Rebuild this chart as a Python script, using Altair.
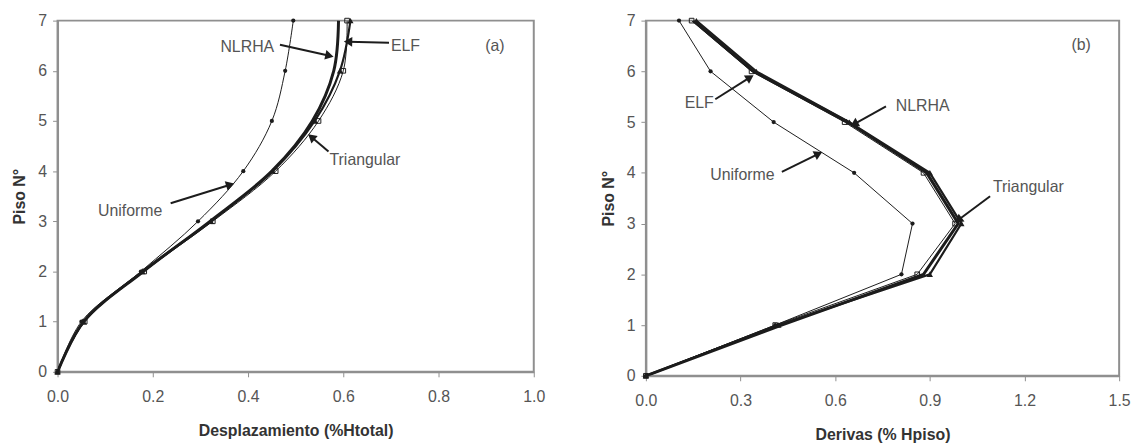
import math
import altair as alt
import pandas as pd

pisos = [0, 1, 2, 3, 4, 5, 6, 7]

# (a) Desplazamiento (% Htotal) por piso
desp_nlrha = [0.0, 0.055, 0.180, 0.320, 0.450, 0.535, 0.580, 0.590]
desp_triangular = [0.0, 0.055, 0.178, 0.322, 0.452, 0.540, 0.593, 0.615]
desp_elf = [0.0, 0.057, 0.182, 0.326, 0.458, 0.548, 0.600, 0.608]
desp_uniforme = [0.0, 0.050, 0.175, 0.295, 0.390, 0.450, 0.478, 0.495]

# (b) Derivas (% Hpiso) por piso
der_nlrha = [0.0, 0.43, 0.88, 0.99, 0.89, 0.640, 0.340, 0.150]
der_triangular = [0.0, 0.42, 0.90, 1.00, 0.90, 0.645, 0.350, 0.160]
der_elf = [0.0, 0.41, 0.86, 0.98, 0.88, 0.630, 0.335, 0.145]
der_uniforme = [0.0, 0.41, 0.81, 0.845, 0.66, 0.405, 0.205, 0.105]

# annotation labels: text, left x, y
notas_a_txt = ["NLRHA", "ELF", "Triangular", "Uniforme", "(a)"]
notas_a_x = [0.342, 0.700, 0.571, 0.085, 0.898]
notas_a_y = [6.48, 6.50, 4.23, 3.20, 6.50]

notas_b_txt = ["ELF", "Uniforme", "NLRHA", "Triangular", "(b)"]
notas_b_x = [0.123, 0.204, 0.792, 1.100, 1.349]
notas_b_y = [5.37, 3.96, 5.31, 3.73, 6.52]

# arrows: tail (x, y) -> head (x, y)
flechas_a_x0 = [0.467, 0.696, 0.569, 0.2375]
flechas_a_y0 = [6.52, 6.56, 4.39, 3.36]
flechas_a_x1 = [0.571, 0.610, 0.533, 0.3625]
flechas_a_y1 = [6.30, 6.58, 4.68, 3.73]

flechas_b_x0 = [0.220, 0.431, 0.761, 1.091]
flechas_b_y0 = [5.45, 4.02, 5.31, 3.54]
flechas_b_x1 = [0.330, 0.547, 0.660, 0.990]
flechas_b_y1 = [5.88, 4.375, 4.96, 3.07]

FONT = "Liberation Sans"
INK = "#1c1c1c"
FRAME = "#8f8f8f"
TEXT = "#555555"


def series_frame(values):
    return pd.DataFrame({"piso": pisos, "valor": values})


def panel(curvas, xmax, xticks, xtitle, notas, flechas, w, h, interp):
    xs = alt.Scale(domain=[0, xmax], nice=False, zero=True)
    ys = alt.Scale(domain=[0, 7], nice=False)
    xax = alt.Axis(values=xticks, format=".1f", title=xtitle, grid=False)
    yax = alt.Axis(values=pisos, format="d", title="Piso N°", grid=False)
    base_x = alt.X("valor:Q", scale=xs, axis=xax)
    base_y = alt.Y("piso:Q", scale=ys, axis=yax)

    layers = []
    for vals, width, shape, filled, size in curvas:
        df = series_frame(vals)
        layers.append(
            alt.Chart(df).mark_line(
                color=INK, strokeWidth=width, clip=True, interpolate=interp
            ).encode(x=base_x, y=base_y, order="piso:Q")
        )
        if shape:
            layers.append(
                alt.Chart(df).mark_point(
                    shape=shape, filled=filled, size=size, color=INK,
                    strokeWidth=1, opacity=1, clip=False,
                ).encode(x=base_x, y=base_y)
            )

    txt, nx, ny = notas
    tdf = pd.DataFrame({"t": txt, "valor": nx, "piso": ny})
    layers.append(
        alt.Chart(tdf).mark_text(
            align="left", baseline="middle", font=FONT, fontSize=16, color=TEXT
        ).encode(x=base_x, y=base_y, text="t:N")
    )

    x0, y0, x1, y1 = flechas
    sx = w / xmax
    sy = h / 7.0
    ang = []
    for a, b, c, d in zip(x0, y0, x1, y1):
        dx = (c - a) * sx
        dy = -(d - b) * sy
        ang.append(math.degrees(math.atan2(dx, -dy)) % 360)
    adf = pd.DataFrame({"valor": x0, "piso": y0, "valor2": x1, "piso2": y1, "ang": ang})
    layers.append(
        alt.Chart(adf).mark_rule(color=INK, strokeWidth=2).encode(
            x=base_x, y=base_y, x2="valor2:Q", y2="piso2:Q"
        )
    )
    layers.append(
        alt.Chart(adf).mark_point(
            shape="triangle-up", filled=True, size=95, color=INK, opacity=1
        ).encode(
            x=alt.X("valor2:Q", scale=xs, axis=xax),
            y=alt.Y("piso2:Q", scale=ys, axis=yax),
            angle=alt.Angle("ang:Q", scale=None),
        )
    )
    return alt.layer(*layers).properties(width=w, height=h)


curvas_a = [
    (desp_nlrha, 3.0, None, True, 0),
    (desp_elf, 1.0, "square", False, 22),
    (desp_triangular, 2.2, "triangle-up", True, 40),
    (desp_uniforme, 1.0, "circle", True, 18),
]
curvas_b = [
    (der_nlrha, 3.0, None, True, 0),
    (der_elf, 1.0, "square", False, 22),
    (der_triangular, 2.2, "triangle-up", True, 40),
    (der_uniforme, 1.0, "circle", True, 18),
]

W_A, H_A = 480, 354
W_B, H_B = 477, 358

chart_a = panel(
    curvas_a, 1.0, [0.0, 0.2, 0.4, 0.6, 0.8, 1.0], "Desplazamiento (%Htotal)",
    (notas_a_txt, notas_a_x, notas_a_y),
    (flechas_a_x0, flechas_a_y0, flechas_a_x1, flechas_a_y1),
    W_A, H_A, "catmull-rom",
)
chart_b = panel(
    curvas_b, 1.5, [0.0, 0.3, 0.6, 0.9, 1.2, 1.5], "Derivas (% Hpiso)",
    (notas_b_txt, notas_b_x, notas_b_y),
    (flechas_b_x0, flechas_b_y0, flechas_b_x1, flechas_b_y1),
    W_B, H_B, "linear",
)

chart = (
    alt.hconcat(chart_a, chart_b, spacing=53)
    .properties(padding={"left": 11, "top": 10, "right": 5, "bottom": 5}, background="white")
    .configure_view(stroke=FRAME, strokeWidth=2)
    .configure_axis(
        domainColor=FRAME, domainWidth=2, tickColor=FRAME, tickSize=5, tickWidth=1,
        labelFont=FONT, labelFontSize=16, labelColor=TEXT, labelPadding=6,
        titleFont=FONT, titleFontSize=16, titleFontWeight="bold", titleColor="#333333",
        labelFlush=False,
    )
    .configure_axisX(labelPadding=12, titlePadding=18)
    .configure_axisY(titlePadding=10)
)

chart.save("out.html", embed_options={"renderer": "svg", "actions": False})
